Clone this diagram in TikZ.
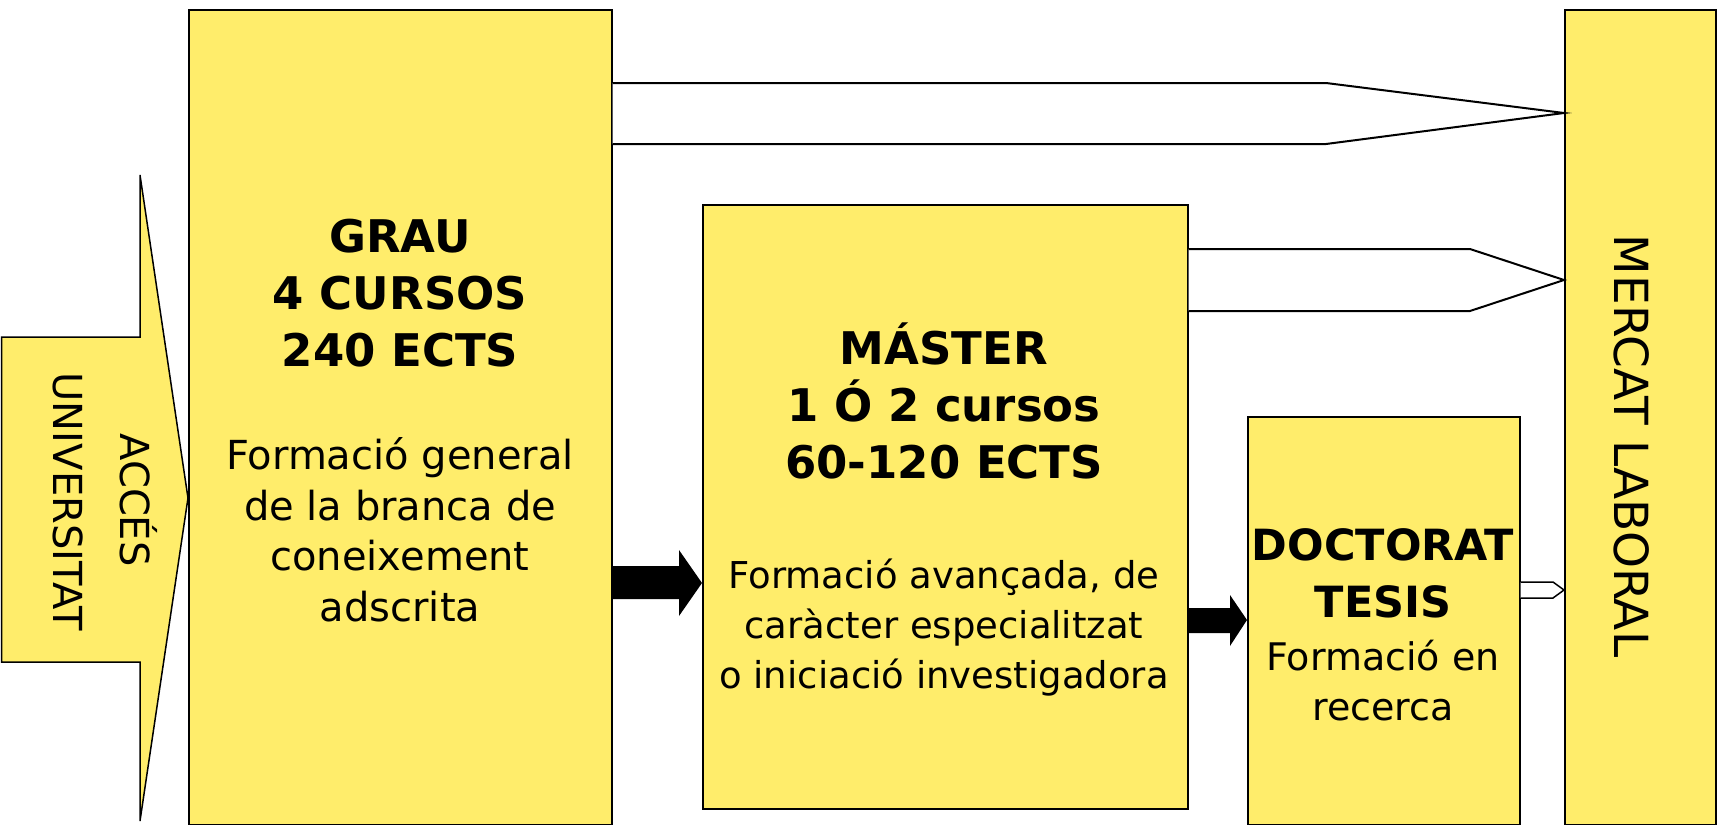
\documentclass[tikz,border=0pt]{standalone}
\usepackage{fontspec}
\setmainfont{DejaVu Sans}
\definecolor{boxyellow}{RGB}{255,237,107}
\begin{document}
\begin{tikzpicture}[x=1pt,y=-1pt,
  box/.style={draw=black,line width=1.5pt,fill=boxyellow,inner sep=0pt,anchor=north west},
  hollow/.style={draw=black,line width=2pt,fill=white,line join=miter},
  blockarrow/.style={fill=black},
  headtext/.style={font=\bfseries\fontsize{45}{57}\selectfont,align=center,inner sep=0pt},
  bodytext/.style={font=\fontsize{40}{50.5}\selectfont,align=center,inner sep=0pt},
  vtext/.style={font=\fontsize{40}{48}\selectfont,rotate=-90,inner sep=0pt}]
\useasboundingbox (0,0) rectangle (1717,825);
% boxes
\node[box,minimum width=423pt,minimum height=815pt] (grau) at (188,9) {};
\node[box,minimum width=485pt,minimum height=604pt] (master) at (702,204) {};
\node[box,minimum width=272pt,minimum height=408pt] (doct) at (1247,416) {};
\node[box,minimum width=151pt,minimum height=815pt] (mercat) at (1564,9) {};
% access arrow
\draw[fill=boxyellow,line width=1.5pt,line join=miter] (1.5,337) -- (140,337) -- (140,175) -- (grau.west |- 0,498) -- (140,821) -- (140,662) -- (1.5,662) -- cycle;
\node[vtext,anchor=base] (acces) at (120,500) {ACCÉS};
\node[vtext,anchor=base] (univ) at (53,502) {UNIVERSITAT};
% hollow arrows to the labour market
\draw[hollow] (grau.east |- 0,83) -- (1326,83) -- (mercat.west |- 0,113) -- (1326,144) -- (grau.east |- 0,144);
\draw[hollow] (master.east |- 0,249) -- (1470,249) -- (mercat.west |- 0,280) -- (1470,311) -- (master.east |- 0,311);
\draw[hollow,line width=1.5pt] (doct.east |- 0,582) -- (1553,582) -- (mercat.west |- 0,590) -- (1553,598) -- (doct.east |- 0,598);
% black block arrows
\fill[blockarrow] (grau.east |- 0,566) -- (679,566) -- (679,550) -- (master.west |- 0,583) -- (679,616) -- (679,599) -- (grau.east |- 0,599) -- cycle;
\fill[blockarrow] (master.east |- 0,608) -- (1230,608) -- (1230,595) -- (doct.west |- 0,620) -- (1230,646) -- (1230,633) -- (master.east |- 0,633) -- cycle;
% texts
\node[headtext] (grauh) at (400,293) {GRAU\\4 CURSOS\\240 ECTS};
\node[bodytext] (graub) at (400,530) {Formació general\\de la branca de\\coneixement\\adscrita};
\node[headtext] (masterh) at (944,401) {MÁSTER\\1 Ó 2 cursos\\60-120 ECTS};
\node[bodytext,font=\fontsize{37}{50}\selectfont] (masterb) at (944,628) {Formació avançada, de\\caràcter especialitzat\\o iniciació investigadora};
\node[headtext,font=\bfseries\fontsize{43}{57}\selectfont] (docth) at (1383,573) {DOCTORAT\\TESIS};
\node[bodytext,font=\fontsize{38}{50}\selectfont] (doctb) at (1383,681) {Formació en\\recerca};
\node[vtext,font=\fontsize{47}{47}\selectfont] (mercatt) at (1632,446) {MERCAT LABORAL};
\end{tikzpicture}
\end{document}
